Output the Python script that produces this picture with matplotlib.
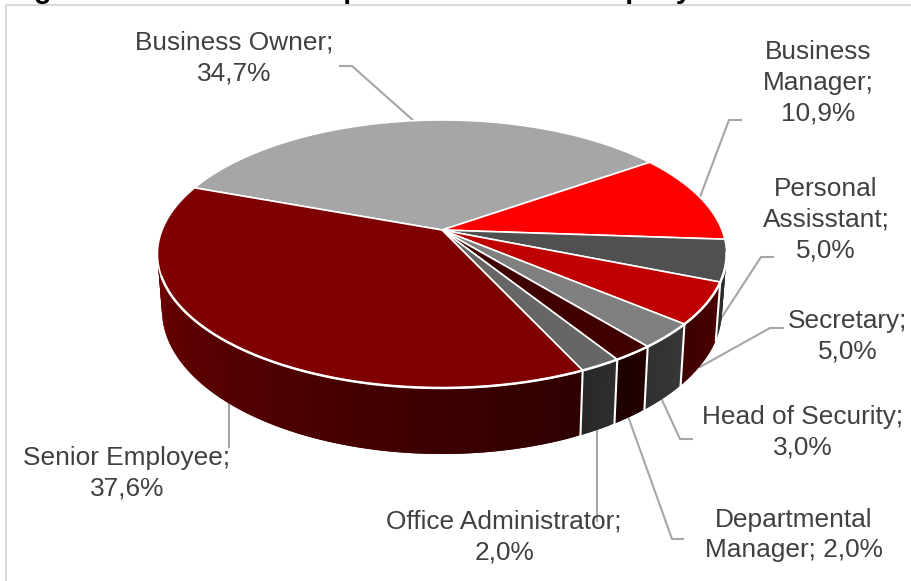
import matplotlib
matplotlib.use("Agg")
import matplotlib.pyplot as plt
import matplotlib.colors as mcolors
import numpy as np

plt.rcParams['font.family'] = ['Liberation Sans', 'DejaVu Sans']

# data, clockwise starting at the left edge of the grey slice
labels = ["Business Owner;\n34,7%", "Business\nManager;\n10,9%", "Personal\nAssisstant;\n5,0%",
          "Secretary;\n5,0%", "Head of Security;\n3,0%", "Departmental\nManager; 2,0%",
          "Office Administrator;\n2,0%", "Senior Employee;\n37,6%"]
shares = [34.7, 10.9, 5.0, 5.0, 3.0, 2.0, 2.0, 37.6]

top_colors = ["#a6a6a6", "#ff0000", "#505050", "#c00000", "#808080", "#400000", "#666666", "#7f0000"]
wall_start = ["#666666", "#990000", "#2c2c2c", "#4a0000", "#383838", "#240000", "#2e2e2e", "#2e0000"]
wall_end = ["#666666", "#990000", "#2c2c2c", "#3e0000", "#303030", "#1c0000", "#282828", "#7c0000"]

# label centres and leader lines, in pixels
label_xy = [(234, 58), (818, 83), (826, 220), (848, 336), (803, 432), (794, 535), (504, 537), (127, 473)]
leaders = [[(340, 66), (352, 66), (415, 122)],
           [(741, 120), (729, 120), (700, 197)],
           [(773, 257), (761, 257), (720, 320)],
           [(783, 328), (770, 328), (700, 367)],
           [(692, 439), (680, 439), (662, 400)],
           [(683, 539), (672, 539), (629, 419)],
           [(597, 428), (597, 521)],
           [(229, 403), (229, 447)]]

# perspective of the disc
cx, cy = 442, 230
a, b, k = 280, 129.7, 0.179
depth = 54.2
taper = 0.016
start = -69.8


def project(theta, drop=0.0):
    t = np.radians(theta)
    u, v = np.sin(t), np.cos(t)
    w = 1 + k * v
    return cx + a * u / w * (1 - taper * drop), cy - b * v / w + drop * depth / w


edges = start + np.concatenate([[0], np.cumsum(shares)]) * 360 / sum(shares)

fig = plt.figure(figsize=(9.11, 5.81), dpi=100)
ax = fig.add_axes([0, 0, 1, 1])
ax.set_xlim(0, 911)
ax.set_ylim(581, 0)
ax.axis("off")

# side wall as strips, each one overlapping the next so no seams show
for i in range(len(shares)):
    n = max(int(edges[i + 1] - edges[i]), 2)
    th = np.linspace(edges[i], edges[i + 1], n + 1)
    c0, c1 = np.array(mcolors.to_rgb(wall_start[i])), np.array(mcolors.to_rgb(wall_end[i]))
    for j in range(n):
        arc = np.linspace(th[j], th[min(j + 2, n)], 6)
        x0, y0 = project(arc)
        x1, y1 = project(arc[::-1], drop=1)
        ax.fill(np.concatenate([x0, x1]), np.concatenate([y0, y1]), facecolor=c0 + (c1 - c0) * (j + 0.5) / n,
                edgecolor="none", zorder=2)

# white lines between the wall pieces
for e in edges:
    if 100 < (e % 360) < 250:
        x0, y0 = project(e)
        x1, y1 = project(e, drop=1)
        ax.plot([x0, x1], [y0, y1], color="white", lw=1.5, zorder=3)

# top of the pie
for i in range(len(shares)):
    th = np.linspace(edges[i], edges[i + 1], 120)
    x, y = project(th)
    xs = np.concatenate([[cx], x])
    ys = np.concatenate([[cy], y])
    ax.fill(xs, ys, facecolor=top_colors[i], edgecolor="white", lw=1.2, joinstyle="round", zorder=4)

# white rim on the front
th = np.linspace(100, 250, 200)
x, y = project(th)
ax.plot(x, y, color="white", lw=1.8, zorder=5)

for pts in leaders:
    ax.plot(*zip(*pts), color="#a6a6a6", lw=1.5, zorder=1)

for (x, y), s in zip(label_xy, labels):
    ax.text(x, y, s, ha="center", va="center", fontsize=18.9, color="#404040", linespacing=1.36, zorder=6)

# frame of the embedded chart, and the title cut off by the crop
ax.plot([5.5, 5.5, 911], [581, 4.5, 4.5], color="#d9d9d9", lw=1.5, zorder=0, clip_on=False)
fig.text(9 / 911, 1 + 1.5 / 581, "Figure 1: Position of Respondents in the Company", fontsize=20.4, fontweight="bold",
         color="black", ha="left", va="baseline")

fig.savefig("out.png", dpi=100)
